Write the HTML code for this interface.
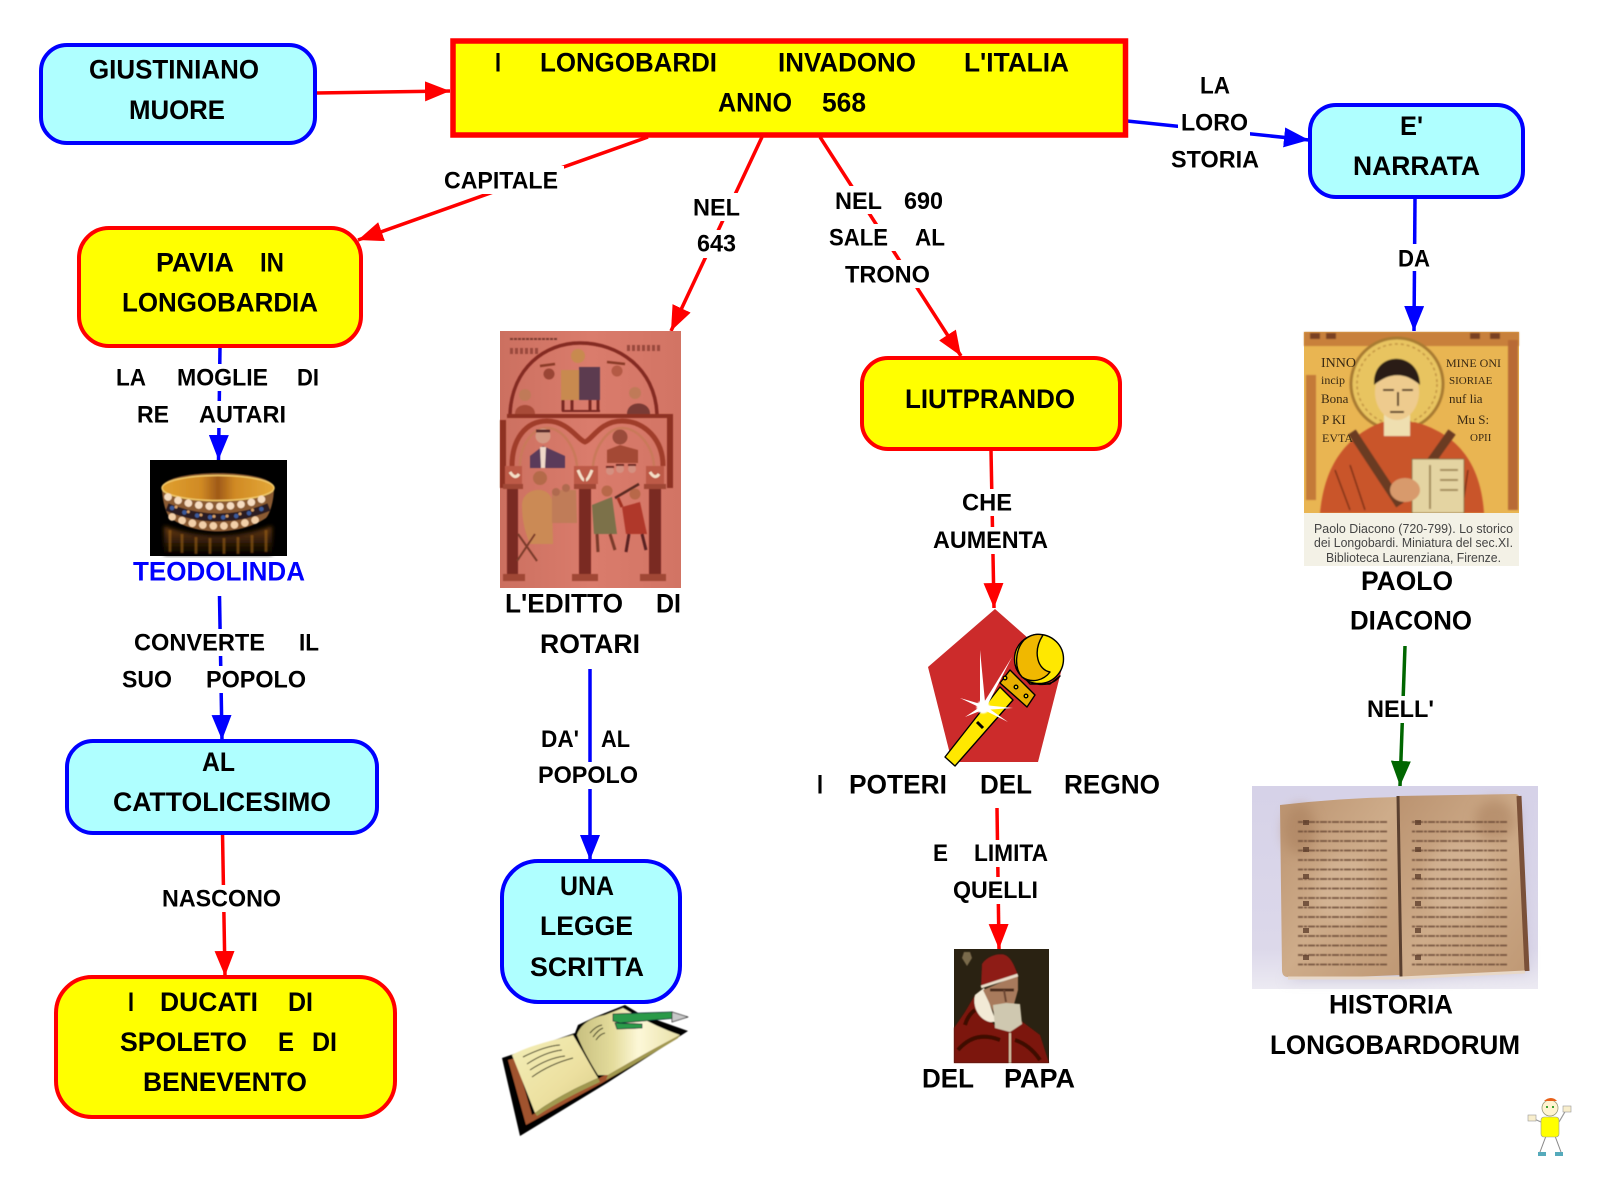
<!DOCTYPE html>
<html lang="it"><head><meta charset="utf-8"><title>I Longobardi invadono l'Italia</title>
<style>
html,body{margin:0;padding:0;background:#fff}
svg{display:block}
text{font-family:"Liberation Sans",Arial,sans-serif;font-weight:bold;fill:#000}
.ln{fill:none;stroke-width:3.5}
.r{stroke:#f00}.u{stroke:#00f}.g{stroke:#060}
.br{stroke:#f00;stroke-width:4;fill:#ff0}.bu{stroke:#00f;stroke-width:4;fill:#afffff}
</style></head><body>
<svg xmlns="http://www.w3.org/2000/svg" width="1600" height="1177" viewBox="0 0 1600 1177">
<defs>
<marker id="ar" markerUnits="userSpaceOnUse" markerWidth="25" markerHeight="20" refX="25" refY="10" orient="auto"><path d="M0 0L25 10L0 20z" fill="#f00"/></marker>
<marker id="au" markerUnits="userSpaceOnUse" markerWidth="25" markerHeight="20" refX="25" refY="10" orient="auto"><path d="M0 0L25 10L0 20z" fill="#00f"/></marker>
<marker id="ag" markerUnits="userSpaceOnUse" markerWidth="25" markerHeight="20" refX="25" refY="10" orient="auto"><path d="M0 0L25 10L0 20z" fill="#060"/></marker>
<filter id="s0"><feGaussianBlur stdDeviation="0.45"/></filter>
<filter id="s1"><feGaussianBlur stdDeviation="0.8"/></filter>
<filter id="s2"><feGaussianBlur stdDeviation="2"/></filter>
<filter id="s5"><feGaussianBlur stdDeviation="6"/></filter>
<linearGradient id="gl" x1="0" y1="0" x2="0" y2="1"><stop offset="0" stop-color="#6a3c10"/><stop offset="1" stop-color="#000"/></linearGradient>
<linearGradient id="gold" x1="0" y1="0" x2="1" y2="0"><stop offset="0" stop-color="#e0a030"/><stop offset=".35" stop-color="#d08a24"/><stop offset=".5" stop-color="#a05a18"/><stop offset=".65" stop-color="#d08a24"/><stop offset="1" stop-color="#e4a838"/></linearGradient>
<linearGradient id="hbg" x1="0" y1="0" x2="0" y2="1"><stop offset="0" stop-color="#d6d2e8"/><stop offset=".8" stop-color="#dcd8ea"/><stop offset="1" stop-color="#eceaf2"/></linearGradient>
<linearGradient id="pg" x1="0" y1="0" x2="1" y2="1"><stop offset="0" stop-color="#bb9370"/><stop offset=".5" stop-color="#ceac8a"/><stop offset="1" stop-color="#bf9874"/></linearGradient>
<linearGradient id="ed" x1="0" y1="0" x2="1" y2="0"><stop offset="0" stop-color="#cc7060"/><stop offset=".5" stop-color="#da7c6c"/><stop offset="1" stop-color="#d27464"/></linearGradient>
<linearGradient id="pgl" x1="0" y1="0" x2="1" y2="1"><stop offset="0" stop-color="#f4eeb8"/><stop offset=".6" stop-color="#ece0a0"/><stop offset="1" stop-color="#d8cc88"/></linearGradient>
<linearGradient id="pgr" x1="0" y1="0" x2="1" y2="0"><stop offset="0" stop-color="#c8c080"/><stop offset=".35" stop-color="#e4dc9c"/><stop offset=".6" stop-color="#fdf8d8"/><stop offset="1" stop-color="#e8e0a8"/></linearGradient>
<pattern id="tx" width="12" height="9.5" patternUnits="userSpaceOnUse"><path d="M0 5h12" stroke="#6a4a34" stroke-width="1.7" stroke-dasharray="7 1 3 1"/></pattern>
</defs>
<rect width="1600" height="1177" fill="#fff"/>

<!-- connectors -->
<g>
<line class="ln r" x1="316" y1="93" x2="450" y2="91" marker-end="url(#ar)"/>
<line class="ln r" x1="648" y1="137" x2="358" y2="240" marker-end="url(#ar)"/>
<line class="ln r" x1="762" y1="137" x2="671" y2="331" marker-end="url(#ar)"/>
<line class="ln r" x1="820" y1="137" x2="961" y2="356" marker-end="url(#ar)"/>
<line class="ln u" x1="1127" y1="121" x2="1309" y2="140" marker-end="url(#au)"/>
<line class="ln u" x1="1415" y1="198" x2="1414" y2="331" marker-end="url(#au)"/>
<line class="ln u" x1="220" y1="347" x2="218.5" y2="460" marker-end="url(#au)"/>
<line class="ln u" x1="219.5" y1="596" x2="222" y2="740" marker-end="url(#au)"/>
<line class="ln r" x1="222.5" y1="833" x2="225" y2="976" marker-end="url(#ar)"/>
<line class="ln u" x1="590" y1="669" x2="590" y2="860" marker-end="url(#au)"/>
<line class="ln r" x1="991" y1="450" x2="994" y2="608" marker-end="url(#ar)"/>
<line class="ln r" x1="997" y1="808" x2="999" y2="949" marker-end="url(#ar)"/>
<line class="ln g" x1="1405" y1="646" x2="1400" y2="786" marker-end="url(#ag)"/>
</g>

<!-- label backgrounds -->
<g fill="#fff">
<rect x="440" y="166" width="124" height="28"/>
<rect x="690" y="193" width="56" height="28"/><rect x="693" y="230" width="48" height="28"/>
<rect x="830" y="186" width="118" height="28"/><rect x="825" y="224" width="124" height="27"/><rect x="842" y="260" width="92" height="28"/>
<rect x="1178" y="108" width="72" height="28"/>
<rect x="1394" y="244" width="40" height="27"/>
<rect x="113" y="364" width="210" height="27"/><rect x="134" y="401" width="156" height="27"/>
<rect x="131" y="629" width="192" height="27"/><rect x="118" y="666" width="192" height="27"/>
<rect x="158" y="885" width="127" height="27"/>
<rect x="596" y="726" width="38" height="26"/><rect x="535" y="762" width="107" height="27"/>
<rect x="959" y="489" width="57" height="27"/><rect x="930" y="527" width="122" height="27"/>
<rect x="930" y="840" width="122" height="27"/><rect x="950" y="877" width="92" height="27"/>
<rect x="1364" y="696" width="74" height="27"/>
</g>

<!-- boxes -->
<rect class="bu" x="41" y="45" width="274" height="98" rx="26"/>
<rect x="453" y="41" width="672.5" height="94" fill="#ff0" stroke="#f00" stroke-width="5.5"/>
<rect class="br" x="79" y="228" width="282" height="118" rx="30"/>
<rect class="bu" x="1310" y="105" width="213" height="92" rx="26"/>
<rect class="br" x="862" y="358" width="258" height="91" rx="26"/>
<rect class="bu" x="67" y="741" width="310" height="92" rx="26"/>
<rect class="br" x="56" y="977" width="339" height="140" rx="36"/>
<rect class="bu" x="502" y="861" width="178" height="141" rx="36"/>

<!-- crown image -->
<g>
<rect x="150" y="460" width="137" height="96" fill="#000"/>
<path d="M164 526Q218 545 272 526L272 555H164Z" fill="url(#gl)" filter="url(#s2)"/>
<path d="M170 530V552M182 534V553M196 537V554M210 538V554M224 538V554M238 537V554M252 535V553M266 530V552" stroke="#9a6018" stroke-width="3" opacity=".6" filter="url(#s1)"/>
<g filter="url(#s0)">
<path d="M162 488C162 468 274 468 274 488C274 500 270 514 266 518C240 536 196 536 170 518C166 514 162 500 162 488Z" fill="#8a5a30"/>
<ellipse cx="218" cy="488" rx="56" ry="12.5" fill="url(#gold)" stroke="#f0c868" stroke-width="1.5"/>
<path d="M167 507Q218 528 269 507" fill="none" stroke="#2a1a20" stroke-width="8"/>
<path d="M168 497Q218 516 268 497" fill="none" stroke="#f6dcc0" stroke-width="7.5" stroke-linecap="round" stroke-dasharray="0.1 10.5"/>
<path d="M172 508Q218 527 264 508" fill="none" stroke="#3a5a9a" stroke-width="4.5" stroke-linecap="round" stroke-dasharray="0.1 13"/>
<path d="M176 507Q218 526 260 507" fill="none" stroke="#d8a068" stroke-width="3" stroke-linecap="round" stroke-dasharray="0.1 13"/>
<path d="M172 517Q218 535 264 517" fill="none" stroke="#f2cfa8" stroke-width="7.5" stroke-linecap="round" stroke-dasharray="0.1 10.5"/>
</g>
</g>

<!-- editto image -->
<g>
<rect x="500" y="331" width="181" height="257" fill="url(#ed)"/>
<g filter="url(#s0)">
<path d="M510 414C512 368 545 343 580 343C618 343 655 368 657 414" fill="none" stroke="#842a20" stroke-width="3.5"/>
<path d="M507 416H670" stroke="#8e3224" stroke-width="4"/>
<path d="M512 466C512 440 525 421 547 421C568 421 578 440 585 442C592 440 600 421 622 421C645 421 663 440 663 466" fill="none" stroke="#a03c2a" stroke-width="5"/>
<path d="M520 466C520 446 532 428 547 428C562 428 575 446 577 466M593 466C595 446 608 428 622 428C638 428 653 446 654 466" fill="none" stroke="#c9795a" stroke-width="2.5"/>
<path d="M503 420V488M670 414V488" stroke="#8e3224" stroke-width="6"/>
<g fill="#7a2c20"><rect x="507" y="488" width="11" height="86"/><rect x="579" y="488" width="12" height="86"/><rect x="649" y="488" width="12" height="86"/></g>
<g fill="#a04634"><rect x="503" y="484" width="20" height="5"/><rect x="574" y="484" width="22" height="5"/><rect x="644" y="484" width="22" height="5"/>
<rect x="503" y="574" width="22" height="7"/><rect x="572" y="574" width="26" height="7"/><rect x="640" y="574" width="26" height="7"/></g>
<g fill="#bd5a46"><rect x="505" y="466" width="17" height="18"/><rect x="574" y="466" width="24" height="18"/><rect x="646" y="466" width="18" height="18"/></g>
<path d="M510 472q5 8 9 2M578 470q4 10 6 10M592 470q-4 10-6 10M650 472q5 8 9 2" stroke="#f4e0c8" stroke-width="3" fill="none"/>
<!-- top figure -->
<rect x="561" y="370" width="18" height="30" fill="#c88a50"/>
<rect x="579" y="367" width="21" height="33" fill="#5c3a50"/>
<path d="M563 400V411M572 400V411M590 400V411M598 400V411" stroke="#7a2a20" stroke-width="3"/>
<path d="M562 411H600" stroke="#7a2a20" stroke-width="2"/>
<circle cx="578" cy="356" r="7" fill="#c88a50"/>
<circle cx="549" cy="374" r="5.5" fill="#9a4434"/><circle cx="617" cy="371" r="5.5" fill="#b45a44"/>
<path d="M540 366l15-2M607 362l18 2" stroke="#8a3a28" stroke-width="2.5"/>
<circle cx="525" cy="395" r="6" fill="#c07a58"/><path d="M515 414C515 402 535 402 535 414Z" fill="#a84c38"/>
<circle cx="635" cy="393" r="6" fill="#c07a58"/><path d="M627 414C627 400 650 400 650 414Z" fill="#7a3a34"/>
<!-- busts -->
<circle cx="543" cy="436" r="7.5" fill="#d49a84"/><path d="M536 431h14" stroke="#5a2a2a" stroke-width="3"/>
<path d="M530 468V456L543 446L565 456V468Z" fill="#5a3a5a"/><path d="M540 447L546 447L545 468H541Z" fill="#f0d8c8"/>
<circle cx="620" cy="437" r="7.5" fill="#9a4c3a"/>
<path d="M607 463V450L620 445L638 450V463Z" fill="#a44a36"/>
<circle cx="610" cy="471" r="4" fill="#d49080"/><circle cx="620" cy="469" r="4" fill="#d49080"/><circle cx="632" cy="469" r="4" fill="#d49080"/>
<path d="M606 467h8M616 465h8M628 465h8" stroke="#702a22" stroke-width="2"/>
<!-- seated -->
<circle cx="540" cy="478" r="7" fill="#b46a4a"/>
<path d="M522 505C522 488 548 484 552 500L553 544H530C524 530 522 518 522 505Z" fill="#cb8a54"/>
<path d="M552 490H576L577 523H552Z" fill="#c07c58"/><circle cx="556" cy="492" r="4" fill="#b06a50"/><circle cx="566" cy="488" r="4" fill="#b06a50"/>
<path d="M518 534L537 561M535 534L517 561" stroke="#7a3a2a" stroke-width="2"/>
<!-- warriors -->
<circle cx="607" cy="491" r="5.5" fill="#b86848"/>
<path d="M592 505L612 497L617 534H594Z" fill="#7b7148"/>
<path d="M597 534L598 552M610 534L615 550" stroke="#7a3a2a" stroke-width="3"/>
<circle cx="635" cy="494" r="5.5" fill="#b86848"/>
<path d="M622 507L640 502L647 534H626Z" fill="#b0382a"/>
<path d="M629 534L626 552M642 534L646 550" stroke="#5a2020" stroke-width="3"/>
<path d="M615 498L639 484" stroke="#5a2a20" stroke-width="2.5"/>
<path d="M622 507L618 498" stroke="#a03020" stroke-width="3"/>
<!-- inscriptions -->
<path d="M510 339H558" stroke="#7a3a30" stroke-width="2" stroke-dasharray="3 1"/>
<path d="M510 351H540M627 348H660" stroke="#9a4a3e" stroke-width="6" stroke-dasharray="3 2"/>
</g>
</g>

<!-- paolo image -->
<g>
<rect x="1304" y="332" width="215" height="181" fill="#e9b552"/>
<g filter="url(#s1)">
<rect x="1304" y="332" width="215" height="14" fill="#c8803a"/>
<path d="M1310 336h10M1326 336h10M1470 336h10M1490 336h10" stroke="#7a4020" stroke-width="6"/>
<rect x="1306" y="375" width="10" height="125" fill="#c47a38"/>
<rect x="1508" y="340" width="10" height="170" fill="#b86a34"/>
<circle cx="1397" cy="384" r="46" fill="#e8c460" stroke="#a87a30" stroke-width="3"/>
<circle cx="1397" cy="384" r="40" fill="none" stroke="#c09040" stroke-width="1.5" stroke-dasharray="3 3"/>
<path d="M1320 513C1325 460 1350 435 1382 422H1415C1450 432 1480 455 1484 513Z" fill="#c9542a"/>
<path d="M1352 432L1400 505M1452 432L1425 470" stroke="#6a3a20" stroke-width="9"/>
<path d="M1335 470l15 40M1350 465l15 45M1468 470l-6 40" stroke="#7a3018" stroke-width="1.5"/>
<rect x="1384" y="412" width="26" height="24" fill="#efdfb0"/>
<ellipse cx="1397" cy="392" rx="22" ry="28" fill="#eecb8e"/>
<path d="M1374 385C1372 350 1420 350 1420 385C1405 372 1390 372 1374 385Z" fill="#2a1e18"/>
<path d="M1383 390h11M1402 390h11M1398 392v14M1390 412h14" stroke="#4a2a18" stroke-width="2"/>
<rect x="1412" y="459" width="52" height="54" fill="#e4d4a2" stroke="#8a6a3a"/>
<path d="M1430 465v44M1440 470h18M1440 480h18M1440 490h18" stroke="#a08858" stroke-width="2"/>
<ellipse cx="1405" cy="490" rx="15" ry="12" fill="#d89a6c"/>
</g>
<g style="font-weight:normal;fill:#3a2a14">
<text x="1321" y="367" style="font-size:14px;font-weight:normal;fill:#3a2a14;font-family:'Liberation Serif',serif">INNO</text>
<text x="1321" y="384" style="font-size:12px;font-weight:normal;fill:#3a2a14;font-family:'Liberation Serif',serif">incip</text>
<text x="1321" y="403" style="font-size:13px;font-weight:normal;fill:#3a2a14;font-family:'Liberation Serif',serif">Bona</text>
<text x="1322" y="424" style="font-size:13px;font-weight:normal;fill:#3a2a14;font-family:'Liberation Serif',serif">P KI</text>
<text x="1322" y="442" style="font-size:12px;font-weight:normal;fill:#3a2a14;font-family:'Liberation Serif',serif">EVTA</text>
<text x="1446" y="367" style="font-size:12px;font-weight:normal;fill:#3a2a14;font-family:'Liberation Serif',serif">MINE ONI</text>
<text x="1449" y="384" style="font-size:11px;font-weight:normal;fill:#3a2a14;font-family:'Liberation Serif',serif">SIORIAE</text>
<text x="1449" y="403" style="font-size:13px;font-weight:normal;fill:#3a2a14;font-family:'Liberation Serif',serif">nuf lia</text>
<text x="1457" y="424" style="font-size:13px;font-weight:normal;fill:#3a2a14;font-family:'Liberation Serif',serif">Mu S:</text>
<text x="1470" y="441" style="font-size:11px;font-weight:normal;fill:#3a2a14;font-family:'Liberation Serif',serif">OPII</text>
</g>
<rect x="1304" y="513" width="215" height="53" fill="#f3f1e6"/>
<text x="1314" y="533" style="font-size:12.5px;font-weight:normal;fill:#444" textLength="199" lengthAdjust="spacingAndGlyphs">Paolo Diacono (720-799). Lo storico</text>
<text x="1314" y="547" style="font-size:12.5px;font-weight:normal;fill:#444" textLength="199" lengthAdjust="spacingAndGlyphs">dei Longobardi. Miniatura del sec.XI.</text>
<text x="1326" y="562" style="font-size:12.5px;font-weight:normal;fill:#444" textLength="175" lengthAdjust="spacingAndGlyphs">Biblioteca Laurenziana, Firenze.</text>
</g>

<!-- historia image -->
<g>
<rect x="1252" y="786" width="286" height="203" fill="url(#hbg)"/>
<path d="M1520 800L1528 972L1402 980L1284 980L1400 900Z" fill="#b4aec8" filter="url(#s5)" opacity=".5"/>
<path d="M1280 805Q1340 798 1398 797L1401 975Q1340 978 1288 977Q1282 977 1282 970Z" fill="url(#pg)"/>
<path d="M1398 796L1515 794Q1520 794 1520 800L1527 968Q1527 971 1522 971L1401 977Z" fill="url(#pg)"/>
<g filter="url(#s5)" opacity=".55">
<ellipse cx="1300" cy="830" rx="16" ry="25" fill="#a87e5c"/>
<ellipse cx="1345" cy="890" rx="30" ry="35" fill="#d8ba9c"/>
<ellipse cx="1460" cy="880" rx="35" ry="40" fill="#d8ba9c"/>
<ellipse cx="1495" cy="820" rx="20" ry="20" fill="#a87e5c"/>
</g>
<rect x="1298" y="820" width="90" height="150" fill="url(#tx)" opacity=".85" filter="url(#s0)"/>
<rect x="1412" y="820" width="96" height="150" fill="url(#tx)" opacity=".85" filter="url(#s0)"/>
<path d="M1306 820V965M1418 820V965" stroke="#5a3a28" stroke-width="6" stroke-dasharray="5 22" opacity=".75"/>
<path d="M1398 796L1401 977" stroke="#5a4030" stroke-width="3"/>
<path d="M1519 796L1527 971" stroke="#7a5038" stroke-width="5"/>
<path d="M1288 978L1401 978L1525 972" stroke="#e8d8c8" stroke-width="3" fill="none"/>
</g>

<!-- pentagon + scepter -->
<path d="M995 609L928 667L952 762H1038L1062 668Z" fill="#cc2b2b"/>
<g stroke="#000" stroke-width="1.4" stroke-linejoin="round">
<path d="M945 757L1000 687L1013 700L955 766Z" fill="#ffe800"/>
<path d="M977 722L983 728" stroke-width="3"/>
<path d="M1010 670L1035 695L1027 707L1000 683Z" fill="#e8b000"/>
<path d="M1016 668C1024 686 1050 690 1060 676L1050 684L1030 684Z" fill="#d89a00"/>
<circle cx="1039" cy="659" r="24.5" fill="#ffe800"/>
<path d="M1024 640C1015 650 1014 668 1022 677C1032 684 1044 680 1050 672C1038 670 1032 652 1043 635C1036 633 1030 635 1024 640Z" fill="#f0b800"/>
<circle cx="1005" cy="678" r="1.8" fill="#ffe800"/><circle cx="1016" cy="687" r="1.8" fill="#ffe800"/><circle cx="1026" cy="696" r="1.8" fill="#ffe800"/>
</g>
<g fill="#fff">
<path d="M980 650L985.5 707L980 707Z"/><path d="M1012 657L987 706L983 704Z"/>
<path d="M960 698L984 705L983 709Z"/><path d="M1013 708L984 705L984 710Z"/>
<path d="M965 717L983 705L985 709Z"/><path d="M1008 722L984 705L982 709Z"/>
<circle cx="983" cy="707" r="6.5" filter="url(#s1)"/>
</g>

<!-- pope image -->
<g>
<rect x="954" y="949" width="95" height="114" fill="#2a2212"/>
<g filter="url(#s0)">
<path d="M964 952l6 0 2 6-5 8-5-8z" fill="#7a6a4c"/>
<path d="M954 1063V1028L965 1012L975 995L994 1025L1020 1020L1040 1035L1049 1063Z" fill="#7c1408"/>
<path d="M958 1050Q975 1030 1000 1040M1015 1040Q1030 1045 1040 1060M965 1025Q968 1015 975 1010" stroke="#3e0a06" stroke-width="4" fill="none"/>
<path d="M975 995L984 988L996 1022L990 1022Z" fill="#f2ead6"/>
<path d="M975 995C972 1008 980 1020 990 1022L996 1022L984 988Z" fill="#f2ead6"/>
<path d="M983 990L1018 975V990L1013 1008L995 1015Z" fill="#a87a5c"/>
<path d="M990 990h24" stroke="#4a2a1c" stroke-width="3"/>
<path d="M1004 990l2 12" stroke="#6a4430" stroke-width="2"/>
<path d="M993 1005L1006 1003L1020 1004L1022 1024L1010 1032L995 1028Z" fill="#cfc8b0"/>
<path d="M981 987L982 964C988 955 1000 953 1005 955C1012 958 1015 968 1018 975Z" fill="#8e1a14"/>
<path d="M981 987L1018 975" stroke="#e8dcc8" stroke-width="3"/>
<path d="M1010 1033V1063" stroke="#d8c4a4" stroke-width="2"/>
</g>
</g>

<!-- book clipart -->
<g stroke-linejoin="round" filter="url(#s0)">
<path d="M502 1058L575 1033L578 1025L595 1017L625 1005L640 1014L688 1031L607 1083L520 1136Z" fill="#000"/>
<path d="M508 1060L526 1125L602 1083L678 1038L676 1035L605 1075L532 1115L516 1058Z" fill="#a0522d"/>
<path d="M512 1055C530 1045 555 1040 573 1035C582 1050 590 1065 598 1078C575 1088 552 1100 535 1113C528 1095 520 1075 512 1055Z" fill="url(#pgl)"/>
<path d="M535 1113C552 1100 575 1088 598 1078L600 1082C578 1092 555 1104 537 1116Z" fill="#a09850"/>
<path d="M577 1035C580 1025 590 1018 605 1015L623 1008C640 1018 660 1028 680 1035C655 1048 630 1062 608 1075L598 1075C590 1062 582 1048 577 1035Z" fill="url(#pgr)"/>
<path d="M608 1075C630 1062 655 1048 680 1035L678 1038C655 1052 630 1067 606 1080Z" fill="#a09850"/>
<g stroke="#2a2a10" stroke-width="1" fill="none">
<path d="M523 1057Q545 1046 560 1045M527 1064Q545 1052 562 1050M530 1070Q548 1058 565 1056M532 1077Q550 1064 573 1058"/>
<path d="M590 1033Q596 1026 602 1025M593 1037Q598 1030 603 1028M596 1040Q600 1034 605 1033"/>
</g>
<path d="M613 1014L672 1012L676 1018L620 1023L613 1021Z" fill="#2a9a48" stroke="#123" stroke-width=".8"/>
<path d="M672 1012L688 1017L672 1022Z" fill="#c8c8c8" stroke="#222" stroke-width=".8"/>
<path d="M615 1023L642 1024L642 1028L617 1029Z" fill="#2a9a48" stroke="#123" stroke-width=".8"/>
</g>

<!-- mascot -->
<g>
<path d="M1546 1136L1540 1152M1555 1136L1561 1152" stroke="#888" stroke-width="1" fill="none"/>
<rect x="1538" y="1152" width="8" height="4" fill="#5ab"/><rect x="1555" y="1152" width="8" height="4" fill="#5ab"/>
<path d="M1541 1122L1532 1118M1559 1122L1566 1110" stroke="#999" stroke-width="1.2"/>
<rect x="1528" y="1115" width="8" height="6" fill="#f8eecc" stroke="#999" stroke-width=".6"/>
<rect x="1563" y="1106" width="8" height="6" fill="#f8eecc" stroke="#999" stroke-width=".6"/>
<rect x="1541" y="1117" width="18" height="20" rx="3" fill="#ff0" stroke="#999" stroke-width=".6"/>
<circle cx="1550" cy="1108" r="8" fill="#fff4d0" stroke="#997" stroke-width=".8"/>
<path d="M1544 1101C1548 1097 1554 1097 1557 1101Z" fill="#e86018"/>
<circle cx="1547" cy="1107" r="1" fill="#080"/><circle cx="1553" cy="1107" r="1" fill="#080"/>
</g>

<!-- texts -->
<g style="font-size:27px">
<text x="89" y="78.5" textLength="170" lengthAdjust="spacingAndGlyphs">GIUSTINIANO</text>
<text x="129" y="119" textLength="96" lengthAdjust="spacingAndGlyphs">MUORE</text>
<text x="495" y="71.5" textLength="6" lengthAdjust="spacingAndGlyphs">I</text>
<text x="540" y="71.5" textLength="177" lengthAdjust="spacingAndGlyphs">LONGOBARDI</text>
<text x="778" y="71.5" textLength="138" lengthAdjust="spacingAndGlyphs">INVADONO</text>
<text x="964" y="71.5" textLength="105" lengthAdjust="spacingAndGlyphs">L'ITALIA</text>
<text x="718" y="111.5" textLength="74" lengthAdjust="spacingAndGlyphs">ANNO</text>
<text x="822" y="111.5" textLength="44" lengthAdjust="spacingAndGlyphs">568</text>
<text x="156" y="271.5" textLength="78" lengthAdjust="spacingAndGlyphs">PAVIA</text>
<text x="260" y="271.5" textLength="24" lengthAdjust="spacingAndGlyphs">IN</text>
<text x="122" y="311.5" textLength="196" lengthAdjust="spacingAndGlyphs">LONGOBARDIA</text>
<text x="133" y="580.5" textLength="172" lengthAdjust="spacingAndGlyphs" style="fill:#00f">TEODOLINDA</text>
<text x="505" y="612.5" textLength="118" lengthAdjust="spacingAndGlyphs">L'EDITTO</text>
<text x="656" y="612.5" textLength="25" lengthAdjust="spacingAndGlyphs">DI</text>
<text x="540" y="653" textLength="100" lengthAdjust="spacingAndGlyphs">ROTARI</text>
<text x="202" y="771" textLength="33" lengthAdjust="spacingAndGlyphs">AL</text>
<text x="113" y="811" textLength="218" lengthAdjust="spacingAndGlyphs">CATTOLICESIMO</text>
<text x="128" y="1011" textLength="6" lengthAdjust="spacingAndGlyphs">I</text>
<text x="160" y="1011" textLength="98" lengthAdjust="spacingAndGlyphs">DUCATI</text>
<text x="288" y="1011" textLength="25" lengthAdjust="spacingAndGlyphs">DI</text>
<text x="120" y="1051" textLength="127" lengthAdjust="spacingAndGlyphs">SPOLETO</text>
<text x="278" y="1051" textLength="16" lengthAdjust="spacingAndGlyphs">E</text>
<text x="312" y="1051" textLength="25" lengthAdjust="spacingAndGlyphs">DI</text>
<text x="143" y="1091" textLength="164" lengthAdjust="spacingAndGlyphs">BENEVENTO</text>
<text x="560" y="895" textLength="54" lengthAdjust="spacingAndGlyphs">UNA</text>
<text x="540" y="935" textLength="93" lengthAdjust="spacingAndGlyphs">LEGGE</text>
<text x="530" y="976" textLength="114" lengthAdjust="spacingAndGlyphs">SCRITTA</text>
<text x="1400" y="135" textLength="23" lengthAdjust="spacingAndGlyphs">E'</text>
<text x="1353" y="175" textLength="127" lengthAdjust="spacingAndGlyphs">NARRATA</text>
<text x="905" y="408" textLength="170" lengthAdjust="spacingAndGlyphs">LIUTPRANDO</text>
<text x="817" y="793.5" textLength="6" lengthAdjust="spacingAndGlyphs">I</text>
<text x="849" y="793.5" textLength="98" lengthAdjust="spacingAndGlyphs">POTERI</text>
<text x="980" y="793.5" textLength="52" lengthAdjust="spacingAndGlyphs">DEL</text>
<text x="1064" y="793.5" textLength="96" lengthAdjust="spacingAndGlyphs">REGNO</text>
<text x="922" y="1087.5" textLength="52" lengthAdjust="spacingAndGlyphs">DEL</text>
<text x="1004" y="1087.5" textLength="71" lengthAdjust="spacingAndGlyphs">PAPA</text>
<text x="1361" y="590" textLength="92" lengthAdjust="spacingAndGlyphs">PAOLO</text>
<text x="1350" y="629.5" textLength="122" lengthAdjust="spacingAndGlyphs">DIACONO</text>
<text x="1329" y="1013.5" textLength="124" lengthAdjust="spacingAndGlyphs">HISTORIA</text>
<text x="1270" y="1054" textLength="250" lengthAdjust="spacingAndGlyphs">LONGOBARDORUM</text>
</g>
<g style="font-size:24px">
<text x="444" y="188.5" textLength="114" lengthAdjust="spacingAndGlyphs">CAPITALE</text>
<text x="693" y="215.5" textLength="47" lengthAdjust="spacingAndGlyphs">NEL</text>
<text x="697" y="251.5" textLength="39" lengthAdjust="spacingAndGlyphs">643</text>
<text x="835" y="209" textLength="47" lengthAdjust="spacingAndGlyphs">NEL</text>
<text x="904" y="209" textLength="39" lengthAdjust="spacingAndGlyphs">690</text>
<text x="829" y="245.5" textLength="59" lengthAdjust="spacingAndGlyphs">SALE</text>
<text x="915" y="245.5" textLength="30" lengthAdjust="spacingAndGlyphs">AL</text>
<text x="845" y="282.5" textLength="85" lengthAdjust="spacingAndGlyphs">TRONO</text>
<text x="1200" y="93.5" textLength="30" lengthAdjust="spacingAndGlyphs">LA</text>
<text x="1181" y="130.5" textLength="67" lengthAdjust="spacingAndGlyphs">LORO</text>
<text x="1171" y="167.5" textLength="88" lengthAdjust="spacingAndGlyphs">STORIA</text>
<text x="1398" y="266.5" textLength="32" lengthAdjust="spacingAndGlyphs">DA</text>
<text x="116" y="385.5" textLength="30" lengthAdjust="spacingAndGlyphs">LA</text>
<text x="177" y="385.5" textLength="91" lengthAdjust="spacingAndGlyphs">MOGLIE</text>
<text x="297" y="385.5" textLength="22" lengthAdjust="spacingAndGlyphs">DI</text>
<text x="137" y="422.5" textLength="32" lengthAdjust="spacingAndGlyphs">RE</text>
<text x="199" y="422.5" textLength="87" lengthAdjust="spacingAndGlyphs">AUTARI</text>
<text x="134" y="650.5" textLength="131" lengthAdjust="spacingAndGlyphs">CONVERTE</text>
<text x="299" y="650.5" textLength="20" lengthAdjust="spacingAndGlyphs">IL</text>
<text x="122" y="687.5" textLength="50" lengthAdjust="spacingAndGlyphs">SUO</text>
<text x="206" y="687.5" textLength="100" lengthAdjust="spacingAndGlyphs">POPOLO</text>
<text x="162" y="906.5" textLength="119" lengthAdjust="spacingAndGlyphs">NASCONO</text>
<text x="541" y="747" textLength="38" lengthAdjust="spacingAndGlyphs">DA'</text>
<text x="601" y="747" textLength="29" lengthAdjust="spacingAndGlyphs">AL</text>
<text x="538" y="783" textLength="100" lengthAdjust="spacingAndGlyphs">POPOLO</text>
<text x="962" y="510.5" textLength="50" lengthAdjust="spacingAndGlyphs">CHE</text>
<text x="933" y="548" textLength="115" lengthAdjust="spacingAndGlyphs">AUMENTA</text>
<text x="933" y="861" textLength="15" lengthAdjust="spacingAndGlyphs">E</text>
<text x="974" y="861" textLength="74" lengthAdjust="spacingAndGlyphs">LIMITA</text>
<text x="953" y="898" textLength="85" lengthAdjust="spacingAndGlyphs">QUELLI</text>
<text x="1367" y="717" textLength="67" lengthAdjust="spacingAndGlyphs">NELL'</text>
</g>
</svg>
</body></html>
